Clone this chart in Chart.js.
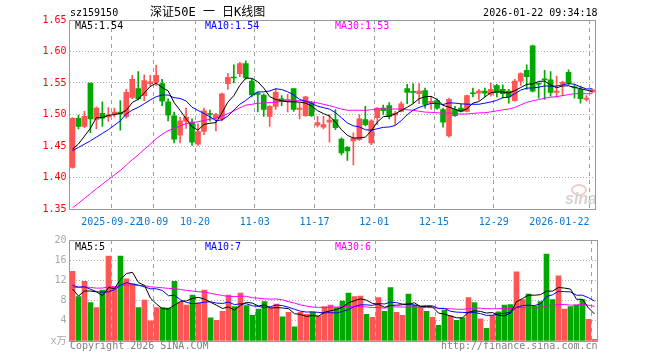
<!DOCTYPE html>
<html>
<head>
<meta charset="utf-8">
<script src="https://cdn.jsdelivr.net/npm/chart.js@4.4.1/dist/chart.umd.min.js"></script>
<style>
  html, body { margin: 0; padding: 0; background: #fff; }
  #wrap { position: relative; width: 660px; height: 360px; }
  #priceBox { position: absolute; left: 0; top: 0; }
  #volBox { position: absolute; left: 0; top: 230px; }
</style>
</head>
<body>
<div id="wrap">
  <div id="priceBox"><canvas id="priceChart" width="660" height="230"></canvas></div>
  <div id="volBox"><canvas id="volChart" width="660" height="130"></canvas></div>
</div>
<script>
// trading days shown on the chart
const dates = [
  "2025-09-11", "2025-09-12", "2025-09-15", "2025-09-16", "2025-09-17", "2025-09-18", "2025-09-19",
  "2025-09-22", "2025-09-23", "2025-09-24", "2025-09-25", "2025-09-26", "2025-09-29", "2025-09-30",
  "2025-10-09", "2025-10-10", "2025-10-13", "2025-10-14", "2025-10-15", "2025-10-16", "2025-10-17",
  "2025-10-20", "2025-10-21", "2025-10-22", "2025-10-23", "2025-10-24", "2025-10-27", "2025-10-28", "2025-10-29", "2025-10-30", "2025-10-31",
  "2025-11-03", "2025-11-04", "2025-11-05", "2025-11-06", "2025-11-07", "2025-11-10", "2025-11-11", "2025-11-12", "2025-11-13", "2025-11-14",
  "2025-11-17", "2025-11-18", "2025-11-19", "2025-11-20", "2025-11-21", "2025-11-24", "2025-11-25", "2025-11-26", "2025-11-27", "2025-11-28",
  "2025-12-01", "2025-12-02", "2025-12-03", "2025-12-04", "2025-12-05", "2025-12-08", "2025-12-09", "2025-12-10", "2025-12-11", "2025-12-12",
  "2025-12-15", "2025-12-16", "2025-12-17", "2025-12-18", "2025-12-19", "2025-12-22", "2025-12-23", "2025-12-24", "2025-12-25", "2025-12-26",
  "2025-12-29", "2025-12-30", "2025-12-31",
  "2026-01-05", "2026-01-06", "2026-01-07", "2026-01-08", "2026-01-09", "2026-01-12", "2026-01-13", "2026-01-14", "2026-01-15", "2026-01-16",
  "2026-01-19", "2026-01-20", "2026-01-21", "2026-01-22",
];

const opens = [
  1.416, 1.494, 1.481, 1.550, 1.492, 1.502, 1.496, 1.500, 1.504, 1.497,
  1.527, 1.541, 1.530, 1.549, 1.551, 1.549, 1.520, 1.498, 1.467, 1.489,
  1.488, 1.453, 1.473, 1.501, 1.494, 1.493, 1.549, 1.559, 1.565, 1.581,
  1.553, 1.534, 1.531, 1.497, 1.513, 1.525, 1.521, 1.541, 1.508, 1.498,
  1.518, 1.483, 1.480, 1.488, 1.492, 1.461, 1.448, 1.458, 1.460, 1.492,
  1.455, 1.495, 1.510, 1.514, 1.499, 1.505, 1.541, 1.536, 1.533, 1.538,
  1.518, 1.522, 1.508, 1.466, 1.508, 1.510, 1.505, 1.534, 1.534, 1.537,
  1.532, 1.546, 1.540, 1.537, 1.522, 1.553, 1.570, 1.609, 1.550, 1.556,
  1.555, 1.535, 1.548, 1.567, 1.544, 1.540, 1.524, 1.536,
];
const highs = [
  1.495, 1.499, 1.505, 1.550, 1.512, 1.520, 1.511, 1.510, 1.522, 1.540,
  1.562, 1.568, 1.563, 1.562, 1.578, 1.556, 1.525, 1.504, 1.496, 1.510,
  1.493, 1.485, 1.510, 1.507, 1.502, 1.534, 1.565, 1.579, 1.583, 1.585,
  1.557, 1.536, 1.533, 1.514, 1.541, 1.530, 1.532, 1.541, 1.518, 1.529,
  1.521, 1.497, 1.497, 1.500, 1.508, 1.463, 1.449, 1.471, 1.500, 1.513,
  1.492, 1.511, 1.515, 1.519, 1.505, 1.520, 1.548, 1.549, 1.549, 1.542,
  1.529, 1.525, 1.510, 1.526, 1.513, 1.516, 1.531, 1.542, 1.540, 1.542,
  1.550, 1.548, 1.547, 1.540, 1.556, 1.566, 1.579, 1.610, 1.550, 1.570,
  1.568, 1.561, 1.553, 1.571, 1.548, 1.545, 1.530, 1.540,
];
const lows = [
  1.415, 1.477, 1.479, 1.471, 1.477, 1.481, 1.489, 1.496, 1.475, 1.494,
  1.525, 1.523, 1.522, 1.545, 1.546, 1.514, 1.490, 1.455, 1.455, 1.478,
  1.451, 1.451, 1.468, 1.490, 1.474, 1.490, 1.540, 1.550, 1.560, 1.556,
  1.528, 1.504, 1.497, 1.481, 1.508, 1.514, 1.504, 1.505, 1.493, 1.497,
  1.497, 1.480, 1.477, 1.456, 1.476, 1.436, 1.427, 1.420, 1.459, 1.482,
  1.452, 1.484, 1.500, 1.493, 1.484, 1.504, 1.517, 1.518, 1.517, 1.510,
  1.508, 1.508, 1.480, 1.464, 1.497, 1.504, 1.504, 1.528, 1.523, 1.528,
  1.529, 1.528, 1.526, 1.518, 1.521, 1.546, 1.540, 1.536, 1.526, 1.524,
  1.529, 1.527, 1.530, 1.547, 1.526, 1.518, 1.521, 1.535,
];
const closes = [
  1.494, 1.481, 1.497, 1.493, 1.510, 1.494, 1.499, 1.504, 1.501, 1.535,
  1.556, 1.525, 1.554, 1.552, 1.562, 1.521, 1.499, 1.461, 1.490, 1.496,
  1.456, 1.473, 1.506, 1.500, 1.500, 1.533, 1.559, 1.558, 1.581, 1.558,
  1.531, 1.532, 1.508, 1.513, 1.535, 1.521, 1.524, 1.508, 1.510, 1.528,
  1.498, 1.487, 1.484, 1.491, 1.479, 1.439, 1.442, 1.462, 1.493, 1.484,
  1.490, 1.510, 1.506, 1.497, 1.502, 1.517, 1.535, 1.535, 1.537, 1.516,
  1.521, 1.510, 1.488, 1.524, 1.498, 1.505, 1.530, 1.533, 1.537, 1.534,
  1.540, 1.535, 1.533, 1.528, 1.553, 1.565, 1.560, 1.537, 1.548, 1.555,
  1.535, 1.537, 1.551, 1.550, 1.542, 1.525, 1.526, 1.539,
];
// volume, 万
const volumes = [
  13.8, 8.8, 11.8, 7.6, 6.6, 10.1, 16.8, 10.8, 16.8, 12.3,
  11.3, 6.6, 8.1, 4.0, 6.6, 6.6, 6.5, 11.8, 7.7, 7.1,
  9.1, 7.5, 10.1, 4.6, 4.1, 5.9, 9.1, 6.8, 9.5, 7.0,
  5.1, 6.3, 7.8, 6.5, 7.3, 4.8, 5.7, 2.8, 5.7, 5.3,
  5.7, 5.0, 6.8, 7.1, 6.6, 7.9, 9.5, 8.8, 8.9, 5.3,
  4.7, 8.6, 5.9, 10.6, 5.7, 5.1, 9.3, 7.1, 6.8, 5.9,
  4.7, 3.1, 6.1, 5.0, 4.1, 4.6, 8.6, 7.6, 4.4, 2.5,
  5.1, 5.8, 7.1, 7.2, 13.7, 8.2, 9.3, 6.9, 7.8, 17.2,
  8.2, 12.9, 6.3, 6.8, 7.1, 8.2, 4.3, 0.35,
];

// sessions before the first visible day, only used to start the moving averages
const prevCloses = [
  1.265, 1.270, 1.262, 1.275, 1.280, 1.272, 1.285, 1.290, 1.283, 1.295,
  1.300, 1.292, 1.305, 1.298, 1.310, 1.330, 1.350, 1.370, 1.390, 1.408,
  1.430, 1.445, 1.440, 1.450, 1.436, 1.440, 1.435, 1.430, 1.426,
];
const prevVolumes = [
  9.5, 10.2, 9.1, 10.8, 9.6, 10.4, 9.9, 9.2, 10.1, 9.7,
  10.3, 9.4, 10.0, 9.8, 9.6, 10.1, 13.2, 12.5, 13.0, 12.5,
  12.0, 11.2, 12.5, 11.4, 11.4, 15.8, 6.8, 7.6, 7.5,
];

const tickDays = ["2025-09-22", "2025-10-09", "2025-10-20", "2025-11-03", "2025-11-17", "2025-12-01", "2025-12-15", "2025-12-29", "2026-01-22"];
const tickText = ["2025-09-22", "10-09", "10-20", "11-03", "11-17", "12-01", "12-15", "12-29", "2026-01-22"];

const RED = "#ff5555";
const GREEN = "#00a800";
const MONO = '"DejaVu Sans Mono", "Liberation Mono", "Noto Sans CJK SC", monospace';

const candleColor = closes.map((c, i) => (c >= opens[i] ? RED : GREEN));
const tickIdx = tickDays.map((d) => dates.indexOf(d));

const sma = (prev, vals, n) => {
  const all = prev.concat(vals);
  return vals.map((_, i) => {
    const end = prev.length + i + 1;
    return all.slice(end - n, end).reduce((a, b) => a + b, 0) / n;
  });
};

const lineSet = (data, color) => ({
  type: "line",
  data: data,
  borderColor: color,
  borderWidth: 1,
  pointRadius: 0,
  tension: 0,
  order: 0,
});

const xScale = (showLabels) => ({
  type: "category",
  offset: true,
  grid: {
    offset: true,
    drawTicks: false,
    lineWidth: 1,
    color: (ctx) => (tickIdx.includes(ctx.index) ? "#a0a0a0" : "rgba(0,0,0,0)"),
  },
  border: { display: false, dash: [4, 4] },
  ticks: {
    display: showLabels,
    autoSkip: false,
    maxRotation: 0,
    padding: 7,
    labelOffset: -3,
    color: "#0b78d0",
    font: { family: MONO, size: 10 },
    callback: (v, i) => {
      const k = tickIdx.indexOf(i);
      if (k < 0) return "";
      // last date sits flush against the right edge
      return i === dates.length - 1 ? tickText[k] + " ".repeat(tickText[k].length) : tickText[k];
    },
  },
  afterFit: (scale) => {
    scale.height = showLabels ? 21 : 19;
  },
});

const frame = {
  id: "frame",
  afterDraw(chart) {
    const { ctx, chartArea: a } = chart;
    const l = Math.floor(a.left) + 0.5;
    const r = Math.floor(a.right) + 0.5;
    const t = Math.floor(a.top) + 0.5;
    const b = Math.floor(a.bottom) + 0.5;
    ctx.save();
    ctx.strokeStyle = "#999";
    ctx.lineWidth = 1;
    ctx.setLineDash([]);
    ctx.strokeRect(l, t, r - l, b - t);
    ctx.restore();
  },
};

const textPlugin = (id, items) => ({
  id: id,
  afterDraw(chart) {
    const ctx = chart.ctx;
    ctx.save();
    ctx.textBaseline = "middle";
    items.forEach((it) => {
      ctx.font = it.font || "10px " + MONO;
      ctx.fillStyle = it.color;
      ctx.textAlign = it.align || "left";
      ctx.fillText(it.text, it.x, it.y);
    });
    ctx.restore();
  },
});

const watermark = {
  id: "watermark",
  beforeDatasetsDraw(chart) {
    const ctx = chart.ctx;
    ctx.save();
    ctx.strokeStyle = "rgba(225,170,170,0.6)";
    ctx.lineWidth = 2;
    ctx.beginPath();
    ctx.ellipse(579, 190, 7, 5, 0, 0, Math.PI * 2);
    ctx.stroke();
    ctx.fillStyle = "rgba(200,200,200,0.8)";
    ctx.font = 'bold italic 16px "Liberation Sans", Arial, sans-serif';
    ctx.textBaseline = "alphabetic";
    ctx.fillText("sina", 565, 204);
    ctx.restore();
  },
};

new Chart(document.getElementById("priceChart"), {
  type: "bar",
  data: {
    labels: dates,
    datasets: [
      lineSet(sma(prevCloses, closes, 5), "#000000"),
      lineSet(sma(prevCloses, closes, 10), "#0000ff"),
      lineSet(sma(prevCloses, closes, 30), "#ff00ff"),
      {
        data: opens.map((o, i) => [o, closes[i]]),
        backgroundColor: candleColor,
        barThickness: 5,
        minBarLength: 1,
        grouped: false,
        order: 1,
      },
      {
        data: lows.map((l, i) => [l, highs[i]]),
        backgroundColor: candleColor,
        barThickness: 1,
        minBarLength: 1,
        grouped: false,
        order: 2,
      },
    ],
  },
  options: {
    responsive: false,
    animation: false,
    devicePixelRatio: 1,
    layout: { padding: { top: 20, right: 62.5, bottom: 0, left: 0 } },
    plugins: { legend: { display: false }, tooltip: { enabled: false } },
    scales: {
      x: xScale(true),
      y: {
        min: 1.35,
        max: 1.65,
        grid: { drawTicks: false, color: "#b0b0b0", lineWidth: 1 },
        border: { display: false, dash: [1, 2] },
        ticks: {
          stepSize: 0.05,
          padding: 3,
          color: "#ff0000",
          font: { family: MONO, size: 10 },
          callback: (v) => v.toFixed(2),
        },
        afterFit: (scale) => {
          scale.width = 69.5;
        },
      },
    },
  },
  plugins: [
    watermark,
    frame,
    textPlugin("priceText", [
      { text: "sz159150", x: 70, y: 13, color: "#000" },
      { text: "深证50E 一 日K线图", x: 150, y: 13, color: "#000", font: '12px "DejaVu Sans Mono", "Noto Sans CJK SC", monospace' },
      { text: "2026-01-22 09:34:18", x: 597.5, y: 13, color: "#000", align: "right" },
      { text: "MA5:1.54", x: 75, y: 26, color: "#000" },
      { text: "MA10:1.54", x: 205, y: 26, color: "#0000ff" },
      { text: "MA30:1.53", x: 335, y: 26, color: "#ff00ff" },
    ]),
  ],
});

new Chart(document.getElementById("volChart"), {
  type: "bar",
  data: {
    labels: dates,
    datasets: [
      lineSet(sma(prevVolumes, volumes, 5), "#000000"),
      lineSet(sma(prevVolumes, volumes, 10), "#0000ff"),
      lineSet(sma(prevVolumes, volumes, 30), "#ff00ff"),
      {
        data: volumes,
        backgroundColor: candleColor,
        barThickness: 5,
        grouped: false,
        order: 1,
      },
    ],
  },
  options: {
    responsive: false,
    animation: false,
    devicePixelRatio: 1,
    layout: { padding: { top: 10, right: 62.5, bottom: 0, left: 0 } },
    plugins: { legend: { display: false }, tooltip: { enabled: false } },
    scales: {
      x: xScale(false),
      y: {
        min: 0,
        max: 20,
        grid: { drawTicks: false, color: "#b0b0b0", lineWidth: 1 },
        border: { display: false, dash: [1, 2] },
        ticks: {
          stepSize: 4,
          padding: 3,
          color: "#a8a8a8",
          font: { family: MONO, size: 10 },
          callback: (v) => (v === 0 ? "x万" : v),
        },
        afterFit: (scale) => {
          scale.width = 69.5;
        },
      },
    },
  },
  plugins: [
    frame,
    textPlugin("volText", [
      { text: "MA5:5", x: 75, y: 17, color: "#000" },
      { text: "MA10:7", x: 205, y: 17, color: "#0000ff" },
      { text: "MA30:6", x: 335, y: 17, color: "#ff00ff" },
      { text: "Copyright 2026 SINA.COM", x: 70, y: 116, color: "#808080" },
      { text: "http://finance.sina.com.cn", x: 597.5, y: 116, color: "#808080", align: "right" },
    ]),
  ],
});
</script>
</body>
</html>
